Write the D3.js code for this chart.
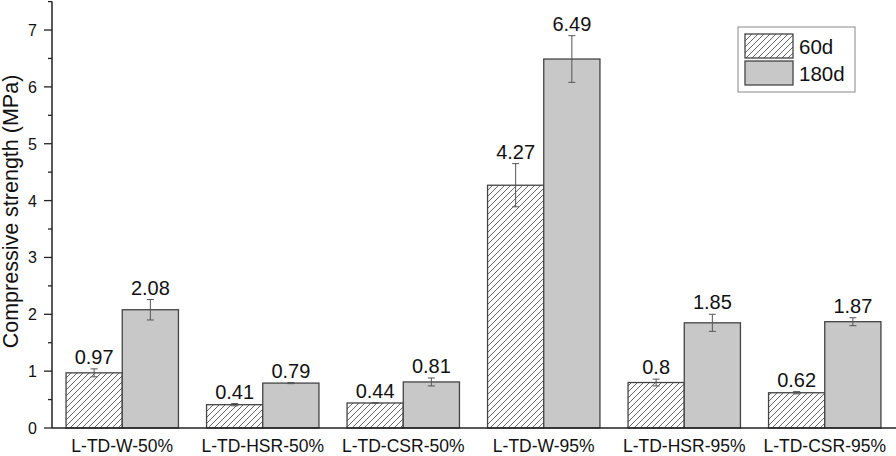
<!DOCTYPE html>
<html><head><meta charset="utf-8">
<script src="https://cdn.jsdelivr.net/npm/d3@7/dist/d3.min.js"></script>
<style>body{margin:0;background:#fff;} svg{display:block;font-family:"Liberation Sans",Arial,sans-serif;}</style>
</head><body>
<svg id="chart" width="896" height="456"></svg>
<script>
const categories = ["L-TD-W-50%","L-TD-HSR-50%","L-TD-CSR-50%","L-TD-W-95%","L-TD-HSR-95%","L-TD-CSR-95%"];
const seriesNames = ["60d","180d"];
const values60 = [0.97,0.41,0.44,4.27,0.8,0.62];
const values180 = [2.08,0.79,0.81,6.49,1.85,1.87];
const err60 = [0.07,0.02,0.005,0.38,0.06,0.02];
const err180 = [0.18,0.01,0.07,0.41,0.15,0.07];
const labels60 = ["0.97","0.41","0.44","4.27","0.8","0.62"];
const labels180 = ["2.08","0.79","0.81","6.49","1.85","1.87"];
const yTicks = [0,1,2,3,4,5,6,7];
const yMinorTicks = [0.5,1.5,2.5,3.5,4.5,5.5,6.5,7.5];

const svg = d3.select("#chart");
const x0 = 52, x1 = 895, yBase = 428;
const y = d3.scaleLinear().domain([0,7.5]).range([yBase, 1.6]);
const x = d3.scaleBand().domain(categories).range([x0, x1]).paddingInner(0.2).paddingOuter(0.1);
const xs = d3.scaleBand().domain(seriesNames).range([0, x.bandwidth()]);

const defs = svg.append("defs");
const pat = defs.append("pattern").attr("id","hatch").attr("patternUnits","userSpaceOnUse")
  .attr("width",6).attr("height",6);
pat.append("rect").attr("width",6).attr("height",6).attr("fill","#fff");
pat.append("path").attr("d","M0,6 L6,0 M-1,1 L1,-1 M5,7 L7,5")
  .attr("stroke","#555").attr("stroke-width",0.9);

const series = [
  {name:"60d", vals:values60, errs:err60, labs:labels60, fill:"url(#hatch)"},
  {name:"180d", vals:values180, errs:err180, labs:labels180, fill:"#c8c8c8"}
];

const g = svg.append("g");
series.forEach(s => {
  const grp = g.append("g");
  categories.forEach((c,i) => {
    const bx = x(c) + xs(s.name), bw = xs.bandwidth();
    grp.append("rect").attr("x",bx).attr("y",y(s.vals[i])).attr("width",bw)
      .attr("height",yBase - y(s.vals[i])).attr("fill",s.fill)
      .attr("stroke","#444").attr("stroke-width",1.3);
    const cx = bx + bw/2;
    const top = y(s.vals[i]+s.errs[i]), bot = y(s.vals[i]-s.errs[i]);
    grp.append("path").attr("d",`M${cx},${top}V${bot}M${cx-3.5},${top}H${cx+3.5}M${cx-3.5},${bot}H${cx+3.5}`)
      .attr("stroke","#555").attr("stroke-width",1).attr("fill","none");
    grp.append("text").attr("x",cx).attr("y",top-5).attr("text-anchor","middle")
      .attr("font-size",20).attr("fill","#111").text(s.labs[i]);
  });
});

// y axis
const ya = svg.append("g").attr("transform",`translate(${x0},0)`);
ya.append("line").attr("x1",0).attr("x2",0).attr("y1",y(7.5)).attr("y2",yBase).attr("stroke","#222").attr("stroke-width",1.5);
yTicks.forEach(t => {
  ya.append("line").attr("x1",-8).attr("x2",0).attr("y1",y(t)).attr("y2",y(t)).attr("stroke","#222").attr("stroke-width",1.3);
  ya.append("text").attr("x",-15).attr("y",y(t)).attr("dy","0.37em").attr("text-anchor","end")
    .attr("font-size",16).attr("fill","#111").text(t);
});
yMinorTicks.forEach(t => {
  ya.append("line").attr("x1",-4).attr("x2",0).attr("y1",y(t)).attr("y2",y(t)).attr("stroke","#222").attr("stroke-width",1.3);
});

// x axis
svg.append("line").attr("x1",x0).attr("x2",896).attr("y1",yBase).attr("y2",yBase).attr("stroke","#222").attr("stroke-width",1.5);
categories.forEach(c => {
  svg.append("text").attr("x",x(c)+x.bandwidth()/2).attr("y",452).attr("text-anchor","middle")
    .attr("font-size",17.5).attr("fill","#111").text(c);
});

// y title
svg.append("text").attr("transform",`translate(18,211.5) rotate(-90)`).attr("text-anchor","middle")
  .attr("font-size",21.5).attr("fill","#111").text("Compressive strength (MPa)");

// legend
const lg = svg.append("g");
lg.append("rect").attr("x",738).attr("y",27).attr("width",117).attr("height",65)
  .attr("fill","#fff").attr("stroke","#888").attr("stroke-width",1);
series.forEach((s,i) => {
  lg.append("rect").attr("x",745).attr("y",34+i*27).attr("width",48).attr("height",24)
    .attr("fill",s.fill).attr("stroke","#444").attr("stroke-width",1.3);
  lg.append("text").attr("x",799).attr("y",53.5+i*27).attr("font-size",20.5).attr("fill","#111").text(s.name);
});
</script>
</body></html>
